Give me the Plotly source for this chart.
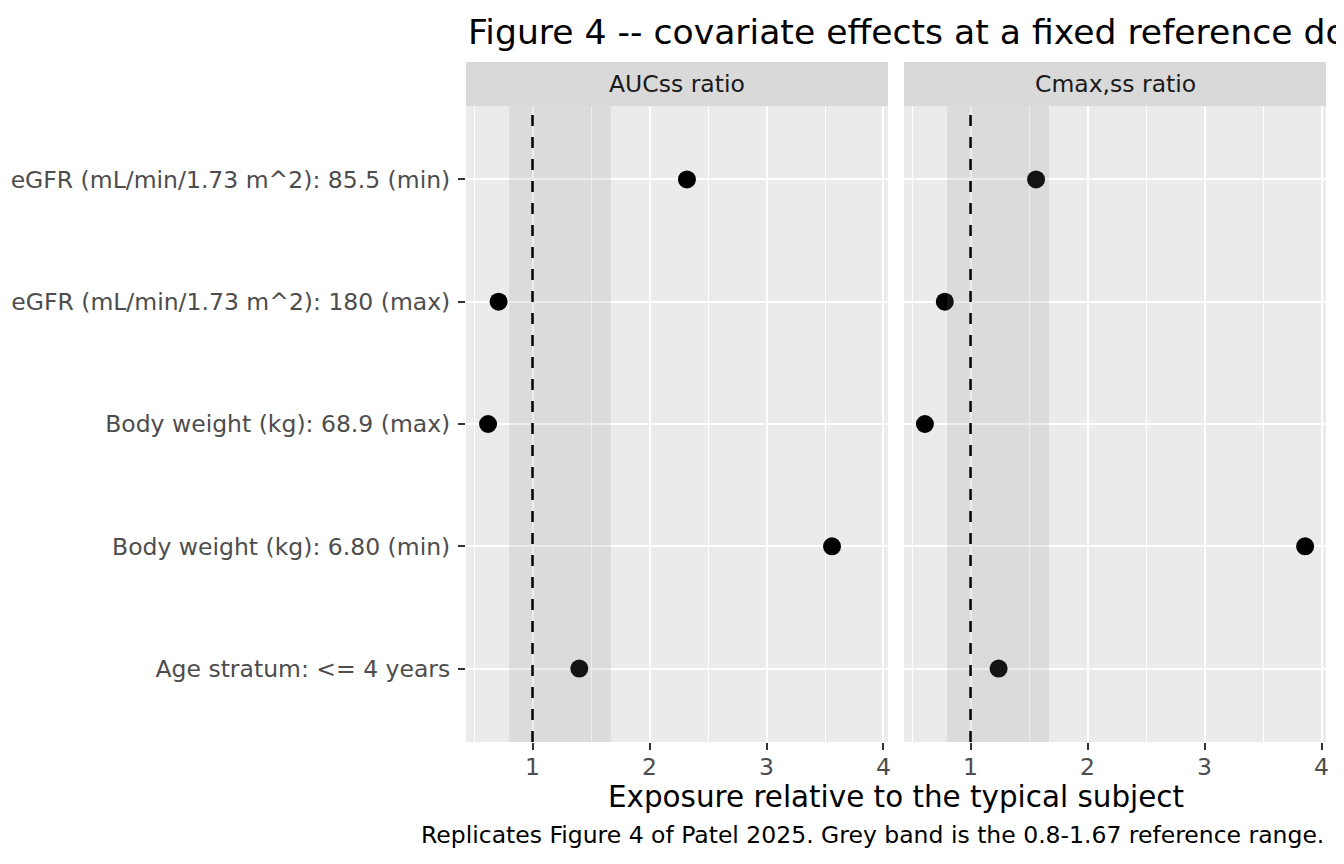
import plotly.graph_objects as go
from plotly.subplots import make_subplots

# Covariate labels, listed top to bottom as they appear in the figure
covariates = [
    "eGFR (mL/min/1.73 m^2): 85.5 (min)",
    "eGFR (mL/min/1.73 m^2): 180 (max)",
    "Body weight (kg): 68.9 (max)",
    "Body weight (kg): 6.80 (min)",
    "Age stratum: <= 4 years",
]
auc_ratio = [2.32, 0.71, 0.62, 3.56, 1.40]
cmax_ratio = [1.56, 0.78, 0.61, 3.86, 1.24]
panels = ["AUCss ratio", "Cmax,ss ratio"]
x_ticks = [1, 2, 3, 4]
ref_value = 1.0
band_lo, band_hi = 0.8, 1.67

title = "Figure 4 -- covariate effects at a fixed reference dose"
x_title = "Exposure relative to the typical subject"
caption = "Replicates Figure 4 of Patel 2025. Grey band is the 0.8-1.67 reference range."

W, H = 1344, 864
OFF = 8  # page body margin, everything is drawn 8px right/down
FONT = "DejaVu Sans"
PANEL_BG = "#EBEBEB"
STRIP_BG = "#D9D9D9"

# panel geometry in screen pixels
px_left = [(467, 890), (906, 1329)]
py_top, py_bot = 106, 742
strip_h = 44


def fx(px):
    return (px - OFF) / W


def fy(py):
    return (H - (py - OFF)) / H


# ggplot-like expansion on the shared x scale
allv = auc_ratio + cmax_ratio
lo, hi = min(allv), max(allv)
pad = 0.055 * (hi - lo)
x_range = [lo - pad, hi + pad]

fig = make_subplots(rows=1, cols=2, shared_yaxes=True)

for i, vals in enumerate([auc_ratio, cmax_ratio]):
    fig.add_trace(
        go.Scatter(
            x=vals, y=covariates, mode="markers",
            marker=dict(color="black", size=18, line=dict(width=0)),
            showlegend=False, cliponaxis=False,
        ),
        row=1, col=i + 1,
    )

# reference band (translucent, so the grid shows through) and the dashed line at 1
for i in range(2):
    xr = "x" if i == 0 else "x2"
    fig.add_shape(
        type="rect", xref=xr, yref="y domain", x0=band_lo, x1=band_hi,
        y0=0, y1=1, fillcolor="rgba(127,127,127,0.15)", line_width=0,
        layer="above",
    )
    fig.add_shape(
        type="line", xref=xr, yref="y domain", x0=ref_value, x1=ref_value,
        y0=0, y1=1, line=dict(color="black", width=2.5, dash="11px,11px"),
        layer="above",
    )

axis_common = dict(
    showline=False, zeroline=False, showgrid=True, gridcolor="white",
    ticks="outside", ticklen=7, tickwidth=1.5, tickcolor="#333333",
    tickfont=dict(family=FONT, size=23.5, color="#4D4D4D"),
)

for i in range(2):
    xa = "xaxis" if i == 0 else "xaxis2"
    x0, x1 = px_left[i]
    fig.layout[xa].update(
        domain=[fx(x0), fx(x1)], range=x_range, tickvals=x_ticks,
        gridwidth=2.2, ticklabelstandoff=-3,
        minor=dict(tickvals=[0.5, 1.5, 2.5, 3.5], showgrid=True,
                   gridcolor="white", gridwidth=1.1, ticks=""),
        **axis_common,
    )

ydom = [fy(py_bot), fy(py_top)]
order = list(reversed(covariates))
fig.update_layout(
    yaxis=dict(domain=ydom, type="category", categoryorder="array",
               categoryarray=order, range=[-0.6, len(order) - 0.4],
               gridwidth=2.2, ticklabelstandoff=3, **axis_common),
    yaxis2=dict(domain=ydom, type="category", categoryorder="array",
                categoryarray=order, range=[-0.6, len(order) - 0.4],
                gridwidth=2.2, showticklabels=False, ticks="",
                showline=False, zeroline=False, gridcolor="white"),
)

# facet strips
strip_frac = strip_h / (py_bot - py_top)
for i, name in enumerate(panels):
    xr = "x domain" if i == 0 else "x2 domain"
    fig.add_shape(type="rect", xref=xr, yref="y domain", x0=0, x1=1,
                  y0=1, y1=1 + strip_frac, fillcolor=STRIP_BG, line_width=0)
    x0, x1 = px_left[i]
    fig.add_annotation(
        text=name, xref="paper", yref="paper",
        x=fx((x0 + x1) / 2), y=fy(py_top - strip_h / 2),
        showarrow=False, xanchor="center", yanchor="middle",
        font=dict(family=FONT, size=23.5, color="#1A1A1A"),
    )

fig.add_annotation(
    text=title, xref="paper", yref="paper", x=fx(467), y=fy(32),
    showarrow=False, xanchor="left", yanchor="middle",
    font=dict(family=FONT, size=34.6, color="black"),
)
fig.add_annotation(
    text=x_title, xref="paper", yref="paper", x=fx((467 + 1329) / 2),
    y=fy(797), showarrow=False, xanchor="center", yanchor="middle",
    font=dict(family=FONT, size=29.4, color="black"),
)
fig.add_annotation(
    text=caption, xref="paper", yref="paper", x=fx(1329), y=fy(835),
    showarrow=False, xanchor="right", yanchor="middle",
    font=dict(family=FONT, size=23.5, color="black"),
)

fig.update_layout(
    width=W, height=H, margin=dict(l=0, r=0, t=0, b=0),
    plot_bgcolor=PANEL_BG, paper_bgcolor="white",
    font=dict(family=FONT),
)

fig.write_html("out.html")
